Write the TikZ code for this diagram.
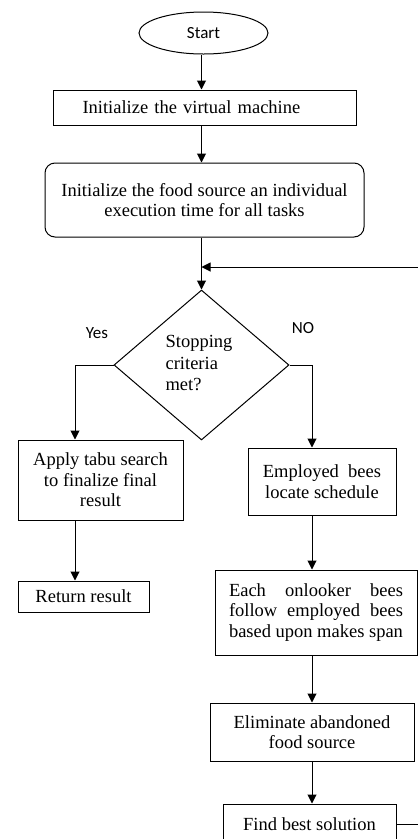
\documentclass[tikz,border=0pt]{standalone}
\usepackage{fontspec}
\setmainfont{Liberation Serif}
\newfontfamily\calfont{Carlito}
\usetikzlibrary{shapes.geometric,arrows.meta}
\begin{document}
\begin{tikzpicture}[x=1pt,y=-1pt,
  every node/.style={font=\fontsize{18.5}{20.5}\selectfont},
  box/.style={draw,line width=1pt,inner sep=0pt,align=center},
  arr/.style={-{Triangle[length=9pt,width=9pt]},line width=1pt},
  ln/.style={line width=1pt},
  lbl/.style={font=\calfont\fontsize{17}{20}\selectfont}]
\useasboundingbox (0,0) rectangle (418,839);
\clip (0,0) rectangle (418,839);
\coordinate (mx) at (201.5,0);
\coordinate (yesx) at (75,0);
\coordinate (nox) at (312,0);
\coordinate (fb) at (418,267);

\node[box,ellipse,minimum width=129pt,minimum height=42pt,font=\calfont\fontsize{17}{20}\selectfont] (start) at (203.5,33) {Start};
\node[box,minimum width=303pt,minimum height=35pt,text width=244pt,align=left,inner xsep=29.5pt] (init) at (204.5,107.5) {Initialize the virtual machine};
\node[box,rounded corners=10pt,minimum width=319pt,minimum height=74pt] (food) at (204.5,200) {Initialize the food source an individual\\execution time for all tasks};
\node[draw,line width=1pt,diamond,minimum width=175pt,minimum height=150pt,inner sep=0pt] (dec) at (201.5,365) {};
\node[align=left,font=\fontsize{18.5}{21.5}\selectfont] (dect) at (199,363) {Stopping\\criteria\\met?};
\node[box,minimum width=165pt,minimum height=80pt] (tabu) at (100.5,480) {Apply tabu search\\to finalize final\\result};
\node[box,minimum width=148pt,minimum height=67pt] (emp) at (322,481.5) {Employed\ \ bees\\locate schedule};
\node[box,minimum width=131pt,minimum height=31pt] (ret) at (83.5,596.5) {Return result};
\node[box,minimum width=202pt,minimum height=85pt,align=left] (onl) at (316,612.5) {\makebox[174pt][s]{Each onlooker bees}\\\makebox[174pt][s]{follow employed bees}\\\makebox[174pt][s]{based upon makes span}};
\node[box,minimum width=204pt,minimum height=58pt] (elim) at (312,732) {Eliminate abandoned\\food source};
\node[box,minimum width=173pt,minimum height=40pt] (best) at (309.5,824) {Find best solution};

\node[lbl] (yes) at (97,333) {Yes};
\node[lbl] (no) at (303,328) {NO};

\draw[arr] (mx |- start.south) -- (mx |- init.north);
\draw[arr] (mx |- init.south) -- (mx |- food.north);
\draw[arr] (mx |- food.south) -- (dec.north);
\draw[arr] (fb) -- (fb -| mx);
\draw[arr] (dec.west) -| (yesx |- tabu.north);
\draw[arr] (dec.east) -| (nox |- emp.north);
\draw[arr] (yesx |- tabu.south) -- (yesx |- ret.north);
\draw[arr] (nox |- emp.south) -- (nox |- onl.north);
\draw[arr] (nox |- onl.south) -- (nox |- elim.north);
\draw[arr] (nox |- elim.south) -- (nox |- best.north);
\draw[ln] (best.east) -- (best.east -| fb);
\end{tikzpicture}
\end{document}
